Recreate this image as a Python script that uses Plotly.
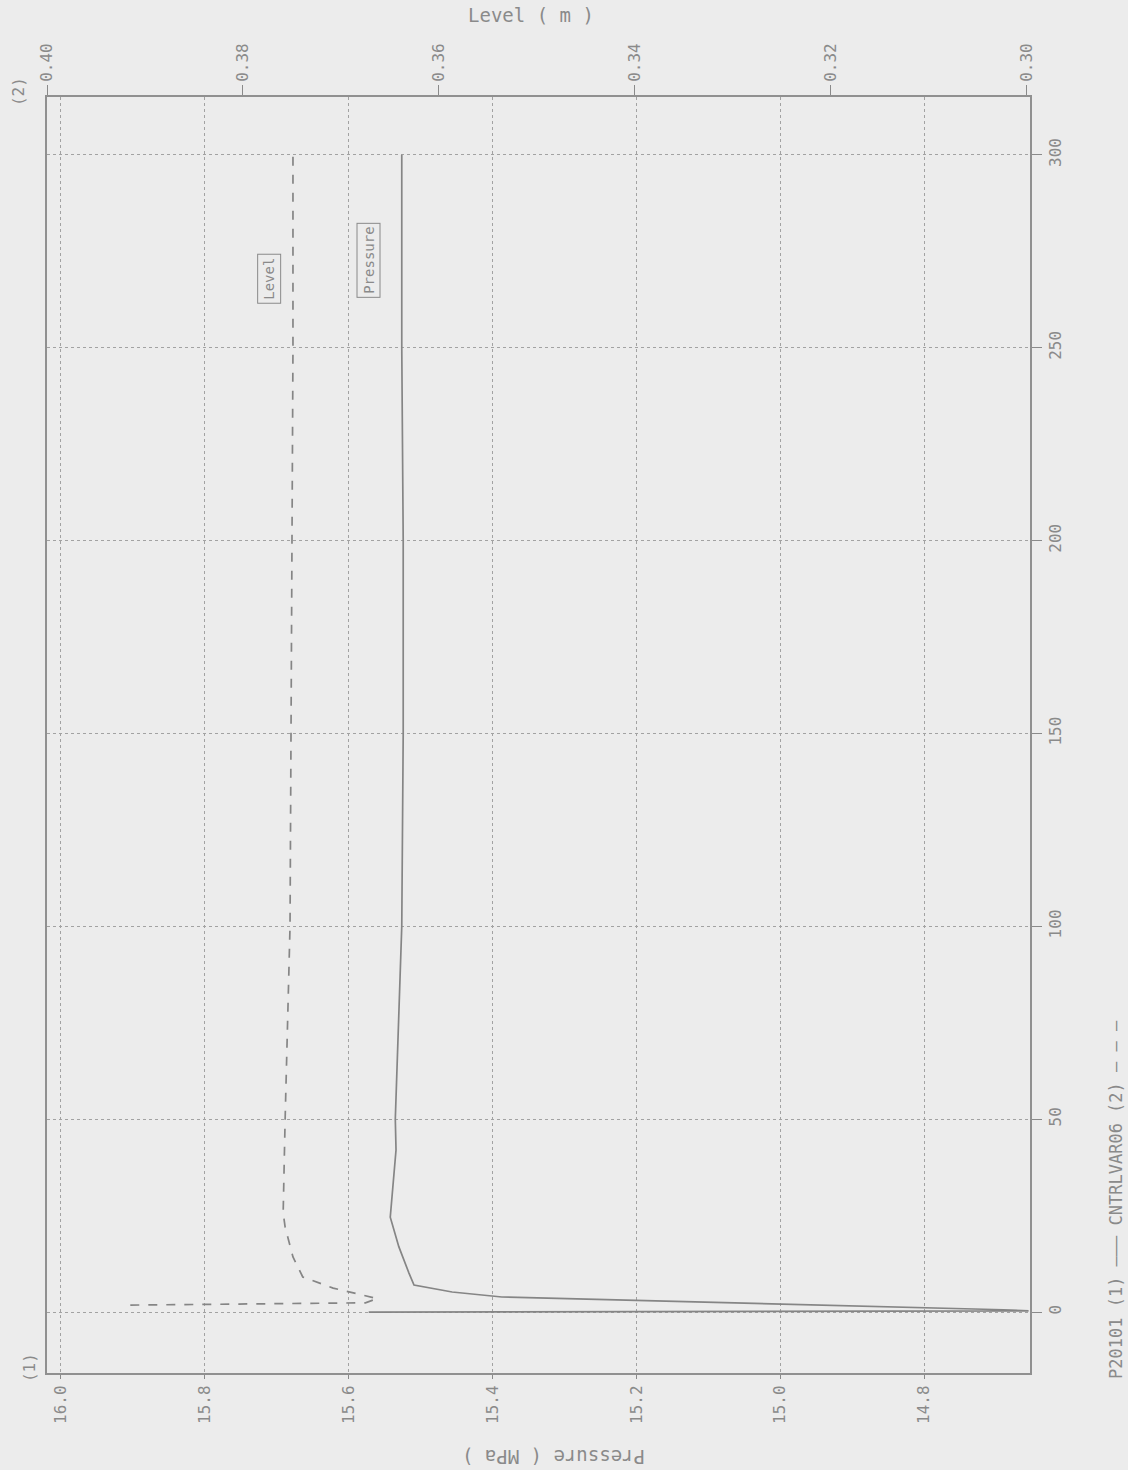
import plotly.graph_objects as go

# ---- data ----
time_p = [0.0, 0.3, 0.6, 2.1, 3.9, 5.2, 7.0, 10.1, 16.9, 24.6, 42.0, 50, 100, 150, 200, 250, 300]
pressure = [15.572, 14.655, 14.690, 15.000, 15.387, 15.456, 15.509, 15.516, 15.530, 15.542,
            15.534, 15.535, 15.526, 15.524, 15.524, 15.526, 15.526]

time_l = [1.8, 2.4, 3.5, 6.2, 9.1, 14.3, 22.0, 25.7, 50, 100, 150, 200, 250, 300]
level = [0.3915, 0.3675, 0.3663, 0.3708, 0.3739, 0.3749, 0.3757, 0.3759,
         0.3757, 0.3752, 0.3751, 0.3750, 0.3749, 0.3749]

p_ticks = [16.0, 15.8, 15.6, 15.4, 15.2, 15.0, 14.8]
p_ticktext = ["16.0", "15.8", "15.6", "15.4", "15.2", "15.0", "14.8"]
l_ticks = [0.40, 0.38, 0.36, 0.34, 0.32, 0.30]
l_ticktext = ["0.40", "0.38", "0.36", "0.34", "0.32", "0.30"]
t_ticks = [0, 50, 100, 150, 200, 250, 300]
t_ticktext = ["0", "50", "100", "150", "200", "250", "300"]

FONT = "DejaVu Sans Mono"
INK = "#8a8a8a"
LINE = "#858585"
BG = "#ececec"

fig = go.Figure()
fig.add_trace(go.Scatter(x=pressure, y=time_p, xaxis="x", yaxis="y", mode="lines",
                         line=dict(color=LINE, width=1.7), showlegend=False))
fig.add_trace(go.Scatter(x=level, y=time_l, xaxis="x2", yaxis="y", mode="lines",
                         line=dict(color=LINE, width=1.7, dash="dash"), showlegend=False))

fig.update_layout(
    width=1128, height=1470, autosize=False,
    margin=dict(l=47, r=98, t=97, b=97),
    paper_bgcolor=BG, plot_bgcolor=BG,
    font=dict(family=FONT, color=INK, size=16),
    xaxis=dict(range=[16.019, 14.653], tickvals=p_ticks, ticktext=p_ticktext,
               tickangle=-90, ticks="outside", ticklen=4, tickcolor=INK,
               showline=True, linecolor="#909090", linewidth=2,
               showgrid=True, gridcolor="#a2a2a2", griddash="dot", gridwidth=1,
               zeroline=False, tickfont=dict(size=16, color=INK)),
    xaxis2=dict(range=[0.40, 0.29969], tickvals=l_ticks, ticktext=l_ticktext,
                overlaying="x", side="top", anchor="y",
                tickangle=-90, ticks="outside", ticklen=10, tickcolor=INK,
                showline=True, linecolor="#909090", linewidth=2,
                showgrid=False, zeroline=False, tickfont=dict(size=16, color=INK)),
    yaxis=dict(range=[-15.8, 315.0], tickvals=t_ticks, ticktext=t_ticktext,
               side="right", tickangle=-90, ticks="outside", ticklen=10, tickcolor=INK,
               showline=True, mirror=True, linecolor="#909090", linewidth=2,
               showgrid=True, gridcolor="#a2a2a2", griddash="dot", gridwidth=1,
               zeroline=False, tickfont=dict(size=16, color=INK)),
)

C = dict(xanchor="center", yanchor="middle", showarrow=False)
ann = [
    dict(text="Level ( m )", x=0.492, y=1.0643, xref="paper", yref="paper",
         font=dict(size=19, color=INK), **C),
    dict(text="Pressure ( MPa )", x=0.5158, y=-0.0658, xref="paper", yref="paper",
         textangle=180, font=dict(size=19, color=INK), **C),
    dict(text="(1)", x=-0.0183, y=0.0039, xref="paper", yref="paper",
         textangle=-90, font=dict(size=16, color=INK), **C),
    dict(text="(2)", x=-0.0295, y=1.0039, xref="paper", yref="paper",
         textangle=-90, font=dict(size=16, color=INK), **C),
    dict(text="P20101 (1) ——— CNTRLVAR06 (2) — — —", x=1.0875, y=0.1356,
         xref="paper", yref="paper", textangle=-90,
         font=dict(size=17, color=INK), **C),
    dict(text="Level", x=0.3773, y=268, xref="x2", yref="y",
         textangle=-90, bordercolor=INK, borderwidth=1, borderpad=3,
         font=dict(size=14, color=INK), **C),
    dict(text="Pressure", x=15.572, y=272.7, xref="x", yref="y",
         textangle=-90, bordercolor=INK, borderwidth=1, borderpad=3,
         font=dict(size=14, color=INK), **C),
]
fig.update_layout(annotations=ann)

fig.write_html(
    "out.html",
    config={"displayModeBar": False},
    post_script="document.body.style.margin='0';document.body.style.background='#ececec';"
                "document.documentElement.style.background='#ececec';",
)
